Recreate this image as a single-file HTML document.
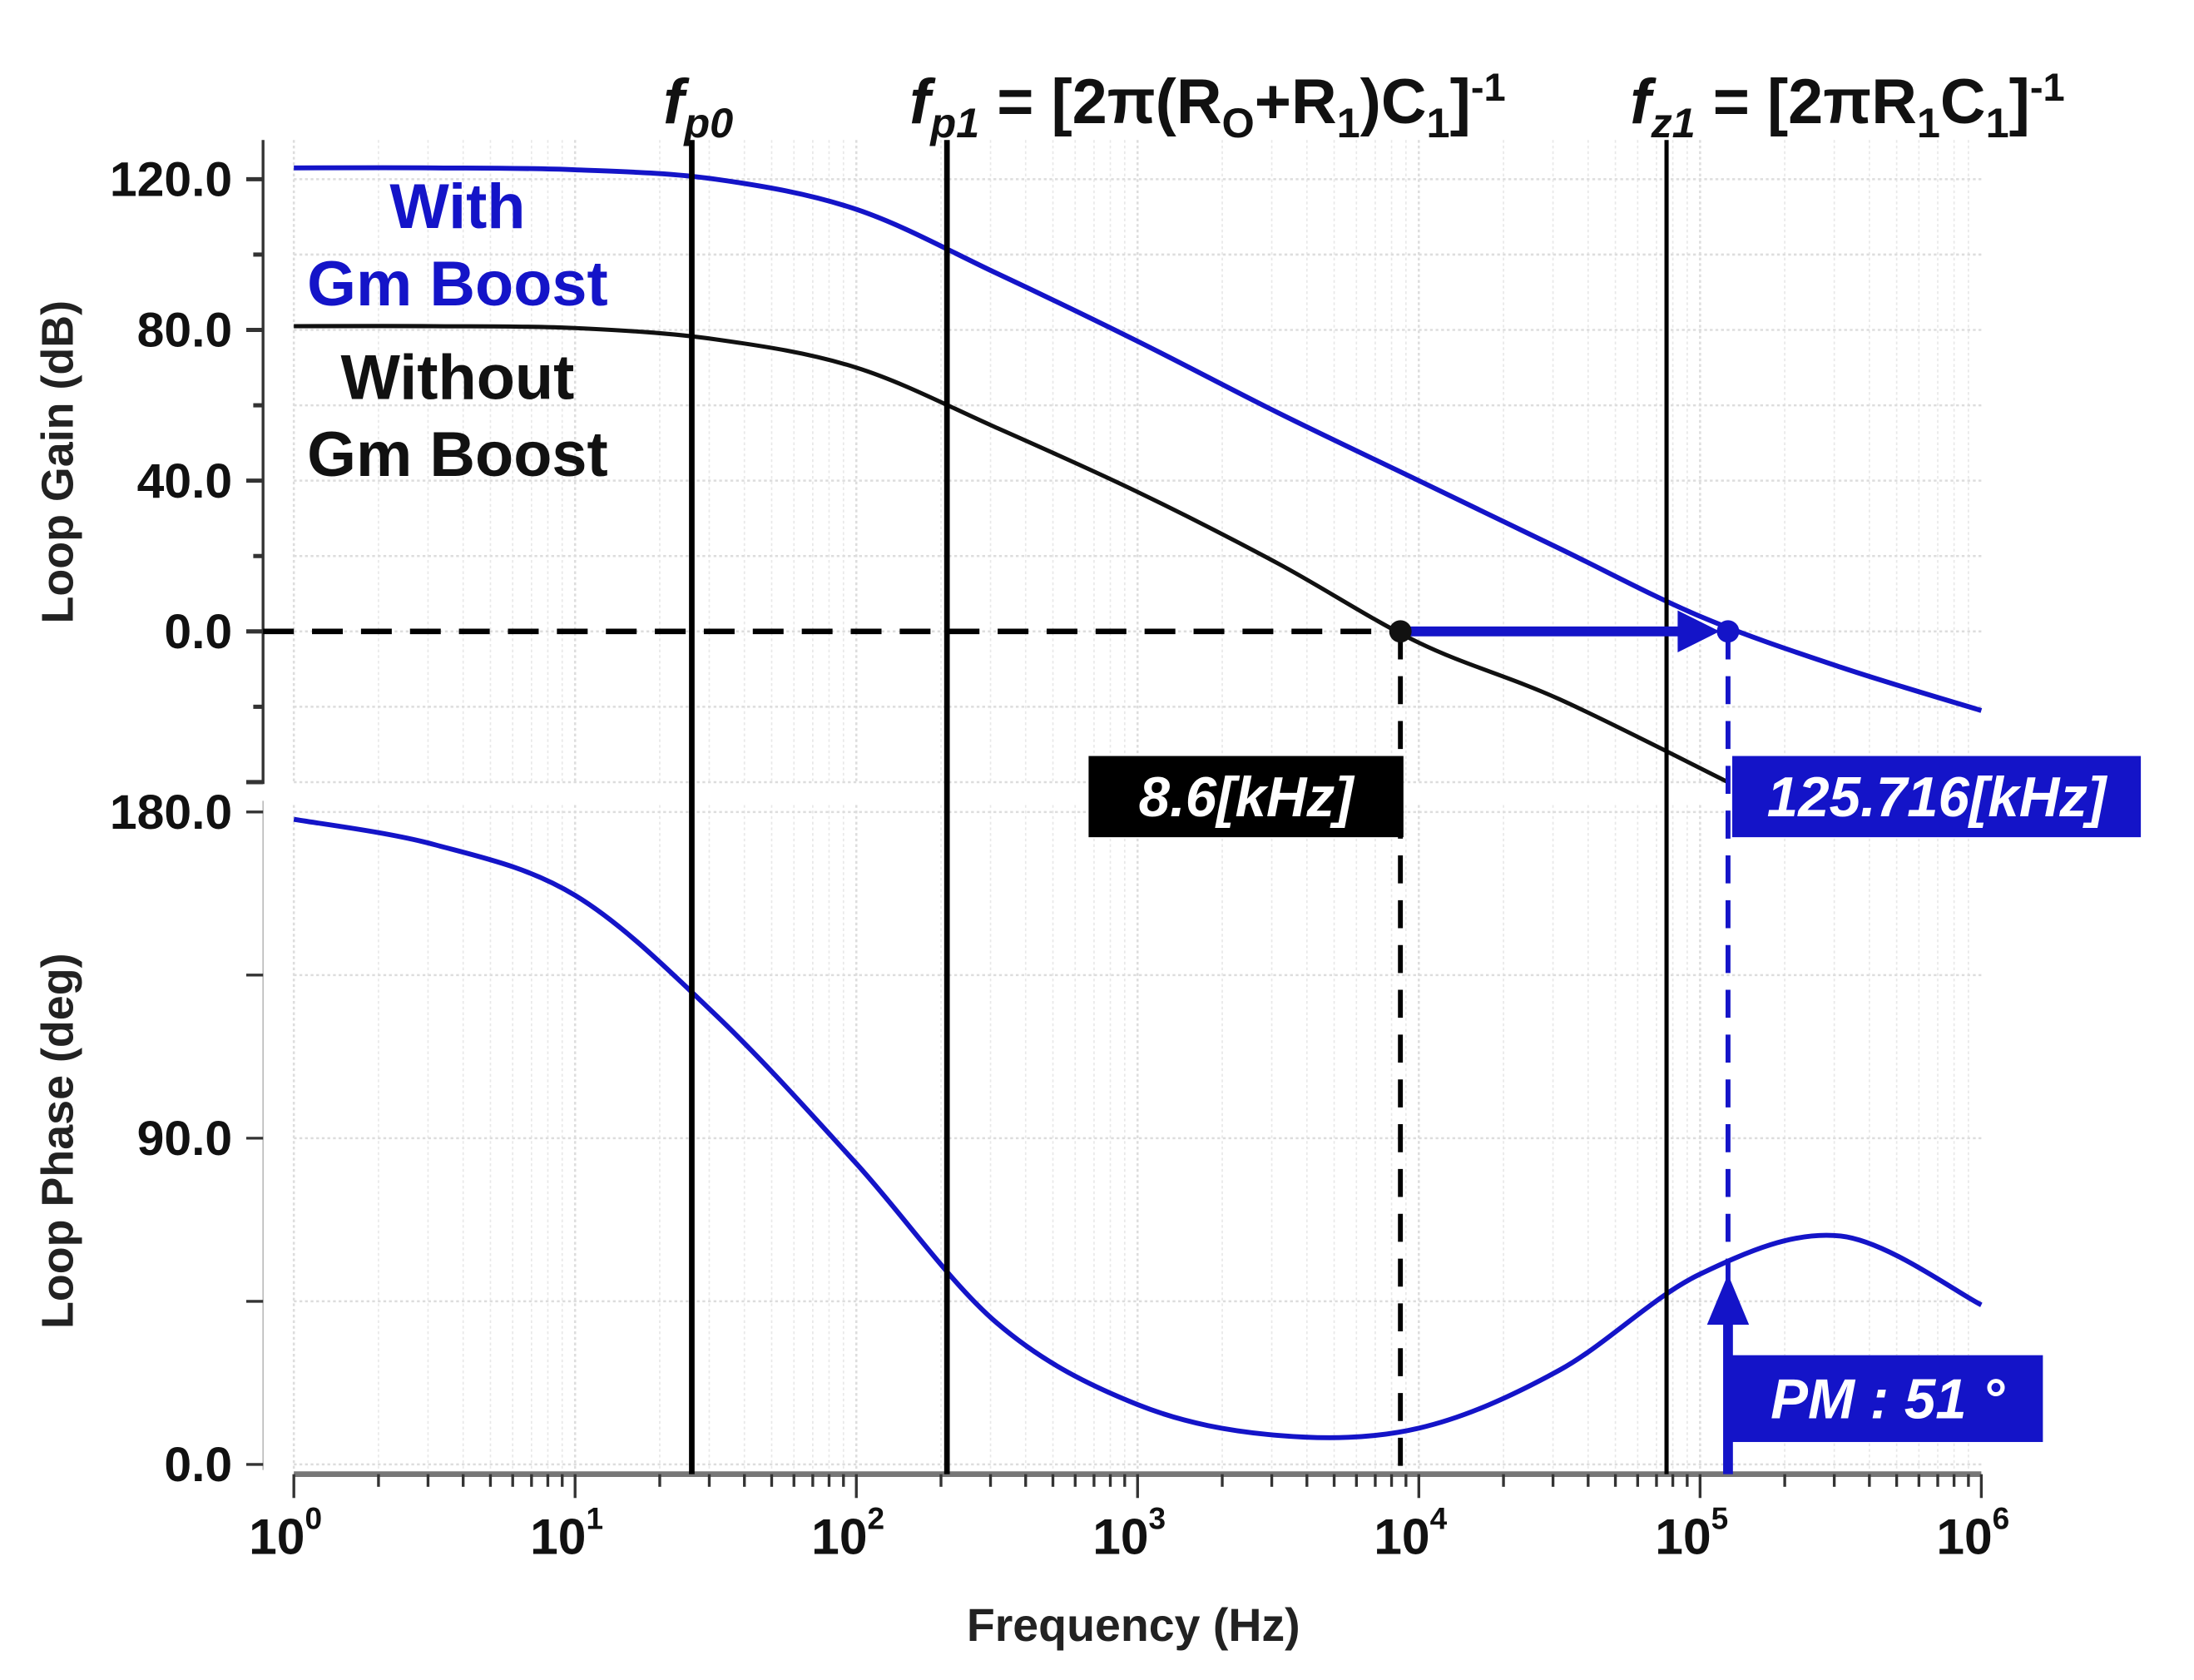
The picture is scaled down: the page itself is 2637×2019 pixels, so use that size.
<!DOCTYPE html>
<html><head><meta charset="utf-8"><style>
html,body{margin:0;padding:0;background:#fff;}
svg{display:block;font-family:"Liberation Sans",Arial,sans-serif;}
</style></head><body>
<svg id="chart" width="2637" height="2019" viewBox="0 0 1568 1200" preserveAspectRatio="none" xmlns="http://www.w3.org/2000/svg">
<g id="grid"></g>
<g id="axes"></g>
<g id="marks"></g>
<g id="annot"></g>
</svg>
<script>
const gainFreq = [1,3.162,10,31.62,100,316.2,1000,3162,10000,31623,100000,316228,1000000];
const gainWith = [123,123,122.5,120,112,95,77,58,40,22,4,-9.5,-21];
const gainWithoutFreq = [1,3.162,10,31.62,100,316.2,1000,3162,10000,31623,125716];
const gainWithout = [81,81,80.5,77.5,70,54,37,18,-3,-18,-40];
const phaseFreq = [1,3.162,10,31.62,100,316.2,1000,3162,10000,31623,100000,316228,1000000];
const phaseWith = [178,171,157,124,83,39,16.5,8,10,26,52.5,63,44];
const gainTicks = [120,80,40,0];
const gainTickLabels = ["120.0","80.0","40.0","0.0"];
const phaseTicks = [180,90,0];
const phaseTickLabels = ["180.0","90.0","0.0"];
const decades = [0,1,2,3,4,5,6];
const markerFreqs = [26,210,76000];
const crossWithout = 8600;
const crossWith = 125716;

const NS="http://www.w3.org/2000/svg";
const X0=210,X1=1416;
const xs=f=>X0+(Math.log10(f))*(X1-X0)/6;
const yg=d=>451-d*(451-128)/120;
const yp=d=>1046-d*(1046-580)/180;
const BLUE="#1414c8";
function mk(p,tag,at,txt){const e=document.createElementNS(NS,tag);for(const k in at)e.setAttribute(k,at[k]);if(txt!==undefined)e.textContent=txt;p.appendChild(e);return e;}
const G=document.getElementById('grid'),A=document.getElementById('axes'),M=document.getElementById('marks'),N=document.getElementById('annot');

for(let d=0;d<6;d++)for(let m=1;m<10;m++){const x=xs(Math.pow(10,d)*m);
 for(const [a,b] of [[100,560],[575,1050]]){const l=mk(G,'line',{x1:x,x2:x,y1:a,y2:b,stroke:m==1?'#ddd':'#e8e8e8','stroke-width':m==1?1.5:1,'stroke-dasharray':'2 2'});
 }}
for(let v=-40;v<=120;v+=20){const l=mk(G,'line',{x1:X0,x2:X1,y1:yg(v),y2:yg(v),stroke:'#ddd','stroke-width':1.5,'stroke-dasharray':'2 2'});
 }
for(let v=0;v<=180;v+=45){const l=mk(G,'line',{x1:X0,x2:X1,y1:yp(v),y2:yp(v),stroke:'#ddd','stroke-width':1.5,'stroke-dasharray':'2 2'});
 }

let ax=mk(A,'line',{x1:188,x2:188,y1:100,y2:560,stroke:'#333','stroke-width':2});

ax=mk(A,'line',{x1:188,x2:188,y1:572,y2:1050,stroke:'#bbb','stroke-width':1});

for(let v=-40;v<=120;v+=20){const t=mk(A,'line',{x1:v%40==0?176:181,x2:188,y1:yg(v),y2:yg(v),stroke:'#333','stroke-width':3});
 }
gainTicks.forEach((v,i)=>{const t=mk(A,'text',{x:166,y:yg(v)+12,'text-anchor':'end','font-size':35,'font-weight':'bold',fill:'#111'},gainTickLabels[i]);
 });
for(let v=0;v<=180;v+=45){const t=mk(A,'line',{x1:176,x2:188,y1:yp(v),y2:yp(v),stroke:'#333','stroke-width':2});
 }
phaseTicks.forEach((v,i)=>{const t=mk(A,'text',{x:166,y:yp(v)+12,'text-anchor':'end','font-size':35,'font-weight':'bold',fill:'#111'},phaseTickLabels[i]);
 });
ax=mk(A,'line',{x1:X0,x2:X1,y1:1053,y2:1053,stroke:'#777','stroke-width':4});

for(let d=0;d<6;d++)for(let m=1;m<10;m++){const x=xs(Math.pow(10,d)*m);const t=mk(A,'line',{x1:x,x2:x,y1:1053,y2:m==1?1070:1062,stroke:'#333','stroke-width':2});
 }
{const t=mk(A,'line',{x1:X1,x2:X1,y1:1053,y2:1070,stroke:'#333','stroke-width':2});}
decades.forEach(d=>{const t=mk(A,'text',{x:xs(Math.pow(10,d))-6,y:1110,'text-anchor':'middle','font-size':36,'font-weight':'bold',fill:'#111'});
 
 mk(t,'tspan',{},'10');mk(t,'tspan',{dy:-18,'font-size':22},String(d));});
let tl=mk(A,'text',{x:810,y:1172,'text-anchor':'middle','font-size':33,'font-weight':'bold',fill:'#222'},'Frequency (Hz)');

tl=mk(A,'text',{x:0,y:0,transform:'translate(52,330) rotate(-90)','text-anchor':'middle','font-size':32,'font-weight':'bold',fill:'#222'},'Loop Gain (dB)');

tl=mk(A,'text',{x:0,y:0,transform:'translate(52,815) rotate(-90)','text-anchor':'middle','font-size':32,'font-weight':'bold',fill:'#222'},'Loop Phase (deg)');


function pathOf(fr,vals,yf){const p=fr.map((f,i)=>[xs(f),yf(vals[i])]);let d='M'+p[0][0]+','+p[0][1];
 for(let i=0;i<p.length-1;i++){const p0=p[Math.max(0,i-1)],p1=p[i],p2=p[i+1],p3=p[Math.min(p.length-1,i+2)];
  const c1=[p1[0]+(p2[0]-p0[0])/6,p1[1]+(p2[1]-p0[1])/6],c2=[p2[0]-(p3[0]-p1[0])/6,p2[1]-(p3[1]-p1[1])/6];
  d+=` C${c1[0]},${c1[1]} ${c2[0]},${c2[1]} ${p2[0]},${p2[1]}`;}return d;}
let c=mk(M,'path',{d:pathOf(gainFreq,gainWith,yg),fill:'none',stroke:BLUE,'stroke-width':3.5});

c=mk(M,'path',{d:pathOf(gainWithoutFreq,gainWithout,yg),fill:'none',stroke:'#111','stroke-width':3});

c=mk(M,'path',{d:pathOf(phaseFreq,phaseWith,yp),fill:'none',stroke:BLUE,'stroke-width':3.5});


markerFreqs.forEach((f,i)=>{const l=mk(N,'line',{x1:xs(f),x2:xs(f),y1:100,y2:1053,stroke:'#000','stroke-width':i==2?3:4});
 });
let l=mk(N,'line',{x1:188,x2:xs(crossWithout),y1:yg(0),y2:yg(0),stroke:'#000','stroke-width':4,'stroke-dasharray':'22 13'});

l=mk(N,'line',{x1:xs(crossWithout),x2:xs(crossWithout),y1:yg(0),y2:1053,stroke:'#000','stroke-width':3.5,'stroke-dasharray':'20 12'});

l=mk(N,'line',{x1:xs(crossWith),x2:xs(crossWith),y1:yg(0),y2:1053,stroke:BLUE,'stroke-width':3.5,'stroke-dasharray':'20 12'});

l=mk(N,'line',{x1:xs(crossWithout),x2:xs(crossWith)-30,y1:yg(0),y2:yg(0),stroke:BLUE,'stroke-width':7});

let ah=mk(N,'polygon',{points:`${xs(crossWith)-6},${yg(0)} ${xs(crossWith)-36},${yg(0)-15} ${xs(crossWith)-36},${yg(0)+15}`,fill:BLUE});

let dt=mk(N,'circle',{cx:xs(crossWithout),cy:yg(0),r:8,fill:'#111'});
dt=mk(N,'circle',{cx:xs(crossWith),cy:yg(0),r:8,fill:BLUE});
l=mk(N,'line',{x1:xs(crossWith),x2:xs(crossWith),y1:1053,y2:930,stroke:BLUE,'stroke-width':7});

ah=mk(N,'polygon',{points:`${xs(crossWith)},${yp(54)+4} ${xs(crossWith)-15},${yp(54)+40} ${xs(crossWith)+15},${yp(54)+40}`,fill:BLUE});


function box(x,y,w,h,fill,txt,name){const r=mk(N,'rect',{x,y,width:w,height:h,fill});
 const t=mk(N,'text',{x:x+w/2,y:y+h/2+14,'text-anchor':'middle','font-size':40,'font-weight':'bold','font-style':'italic',fill:'#fff'},txt);
 }
box(778,540,225,58,'#000','8.6[kHz]','crossover-without-label');
box(1238,540,292,58,BLUE,'125.716[kHz]','crossover-with-label');
box(1238,968,222,62,BLUE,'PM : 51 °','phase-margin-label');

function lbl(x,y,txt,fill,name){const t=mk(N,'text',{x,y,'text-anchor':'middle','font-size':45,'font-weight':'bold',fill},txt);}
lbl(327,163,'With',BLUE,'legend-with');lbl(327,218,'Gm Boost',BLUE,'legend-with-2');
lbl(327,285,'Without','#111','legend-without');lbl(327,340,'Gm Boost','#111','legend-without-2');

function head(x,y,parts,name){const t=mk(N,'text',{x,y,'font-size':45,'font-weight':'bold',fill:'#111'});
 parts.forEach(p=>{mk(t,'tspan',p[1]||{},p[0]);});}
head(474,88,[['f',{'font-style':'italic'}],['p0',{'font-style':'italic','font-size':30,dy:10}]],'fp0-label');
head(650,88,[['f',{'font-style':'italic'}],['p1',{'font-style':'italic','font-size':30,dy:10}],[' = [2π(R',{dy:-10}],['O',{'font-size':30,dy:10}],['+R',{dy:-10}],['1',{'font-size':30,dy:10}],[')C',{dy:-10}],['1',{'font-size':30,dy:10}],[']',{dy:-10}],['-1',{'font-size':28,dy:-16}]],'fp1-label');
head(1165,88,[['f',{'font-style':'italic'}],['z1',{'font-style':'italic','font-size':30,dy:10}],[' = [2πR',{dy:-10}],['1',{'font-size':30,dy:10}],['C',{dy:-10}],['1',{'font-size':30,dy:10}],[']',{dy:-10}],['-1',{'font-size':28,dy:-16}]],'fz1-label');
</script>
</body></html>
